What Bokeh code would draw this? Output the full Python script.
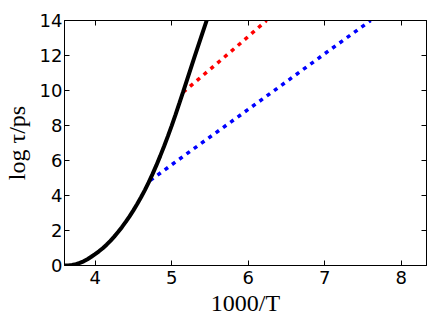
from bokeh.plotting import figure
from bokeh.models import Range1d, LinearAxis, FixedTicker, CustomLabelingPolicy
from bokeh.embed import file_html
from bokeh.resources import INLINE

# ---- data ----
black_x = [3.60, 3.65, 3.70, 3.75, 3.80, 3.85, 3.90, 3.95, 4.00, 4.05, 4.10,
           4.15, 4.20, 4.25, 4.30, 4.35, 4.40, 4.45, 4.50, 4.55, 4.60, 4.65,
           4.70, 4.75, 4.80, 4.85, 4.90, 4.95, 5.00, 5.05, 5.10, 5.15, 5.20,
           5.25, 5.30, 5.35, 5.40, 5.46]
black_y = [0.00, 0.00, 0.03, 0.08, 0.15, 0.24, 0.36, 0.50, 0.65, 0.81, 0.99,
           1.19, 1.41, 1.65, 1.91, 2.19, 2.49, 2.81, 3.15, 3.51, 3.90, 4.31,
           4.75, 5.22, 5.72, 6.25, 6.80, 7.38, 7.98, 8.61, 9.26, 9.92, 10.59,
           11.26, 11.93, 12.59, 13.25, 14.03]

red_x = [5.15, 5.50, 5.90, 6.24]
red_y = [9.90, 11.20, 12.70, 14.00]

blue_x = [4.72, 5.24, 5.90, 6.42, 7.00, 7.60]
blue_y = [4.86, 6.52, 8.60, 10.25, 12.10, 14.00]

x_ticks = [4, 5, 6, 7, 8]
y_ticks = [0, 2, 4, 6, 8, 10, 12, 14]
x_start, x_end = 3.6, 8.33
y_start, y_end = 0, 14

TICK_FONT = "DejaVu Sans"
LABEL_FONT = "Liberation Serif"

p = figure(width=432, height=323, output_backend="svg", toolbar_location=None,
           x_range=Range1d(x_start, x_end), y_range=Range1d(y_start, y_end),
           min_border_left=64, min_border_right=6, min_border_top=20,
           min_border_bottom=58)
p.grid.visible = False
p.background_fill_color = "white"
p.border_fill_color = "white"
p.outline_line_color = "black"
p.outline_line_width = 1

hide_all = CustomLabelingPolicy(code="""
    for (let i = 0; i < indices.size; i++) { indices.unset(i) }
    return indices
""")

def style_axis(ax, ticks, show_labels, standoff):
    ax.ticker = FixedTicker(ticks=ticks)
    ax.major_tick_in = 5
    ax.major_tick_out = 0
    ax.minor_tick_line_color = None
    ax.axis_line_color = "black"
    ax.major_tick_line_color = "black"
    ax.major_label_standoff = standoff
    ax.major_label_text_font = TICK_FONT
    ax.major_label_text_color = "black"
    if show_labels:
        ax.major_label_text_font_size = "18px"
    else:
        ax.major_label_text_font_size = "0px"
        ax.major_label_policy = hide_all

style_axis(p.xaxis[0], x_ticks, True, 5)
style_axis(p.yaxis[0], y_ticks, True, 2)

p.yaxis[0].axis_label = "log τ/ps"
p.yaxis[0].axis_label_text_font = LABEL_FONT
p.yaxis[0].axis_label_text_font_size = "24px"
p.yaxis[0].axis_label_text_font_style = "normal"
p.yaxis[0].axis_label_text_color = "black"
p.yaxis[0].axis_label_standoff = 7

p.xaxis[0].axis_label = "1000/T"
p.xaxis[0].axis_label_text_font = LABEL_FONT
p.xaxis[0].axis_label_text_font_size = "24px"
p.xaxis[0].axis_label_text_font_style = "normal"
p.xaxis[0].axis_label_text_color = "black"
p.xaxis[0].axis_label_standoff = 3

top_ax = LinearAxis()
style_axis(top_ax, x_ticks, False, 0)
p.add_layout(top_ax, "above")
right_ax = LinearAxis()
style_axis(right_ax, y_ticks, False, 0)
p.add_layout(right_ax, "right")

# curves
p.line(blue_x, blue_y, line_color="#0000ff", line_width=3.5, line_dash="4 5")
p.line(red_x, red_y, line_color="#ff0000", line_width=3.5, line_dash="4 5")
p.line(black_x, black_y, line_color="black", line_width=4)

open("out.html", "w").write(file_html(p, INLINE))
